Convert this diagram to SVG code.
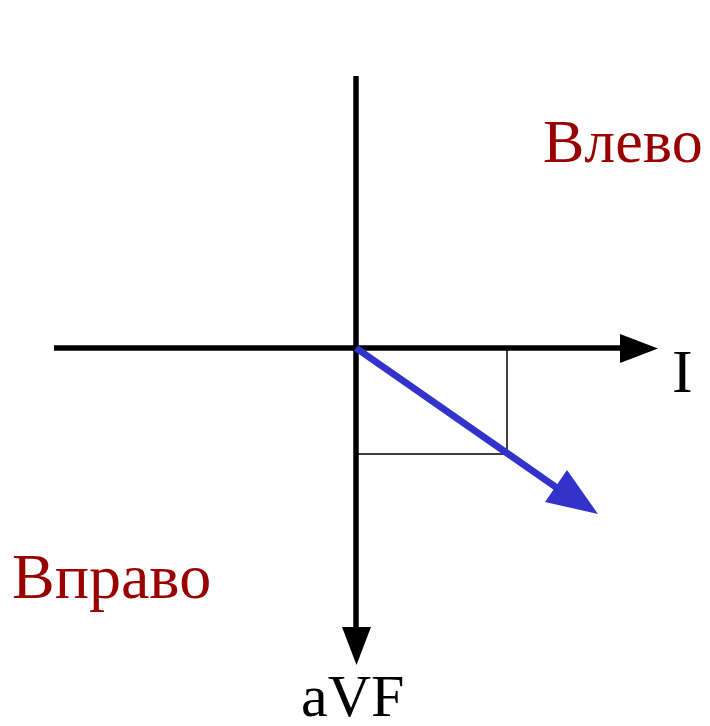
<svg xmlns="http://www.w3.org/2000/svg" width="710" height="726" viewBox="0 0 710 726">
<style>
.axis{stroke:#000;stroke-width:5.5;fill:none}
.thin{stroke:#000;stroke-width:1.5;fill:none}
.lbl{font-family:"Liberation Serif","Times New Roman",serif;font-size:62px;fill:#000}
.dir{font-family:"Liberation Serif","Times New Roman",serif;font-size:62px;fill:#990000}
</style>
<rect width="710" height="726" fill="#fff"/>
<g id="connectors">
<line class="axis" x1="54" y1="348" x2="622" y2="348"/>
<polygon points="620,334 658,348.5 620,363" fill="#000"/>
<line class="axis" x1="356" y1="76" x2="356" y2="630"/>
<polygon points="342,627 371,627 356.5,665" fill="#000"/>
<polyline class="thin" points="356,348 507,348 507,454 356,454"/>
<line x1="356" y1="348" x2="560" y2="490" stroke="#3333CC" stroke-width="7"/>
<polygon points="545,502 567,470 598,514" fill="#3333CC"/>
</g>
<g id="label-I"><text class="lbl" x="672" y="392">I</text></g>
<g id="label-aVF"><text class="lbl" x="301" y="716" style="font-size:60px">aVF</text></g>
<g id="label-left"><text class="dir" x="543" y="162">Влево</text></g>
<g id="label-right"><text class="dir" x="12" y="598" style="font-size:64px">Вправо</text></g>
</svg>
